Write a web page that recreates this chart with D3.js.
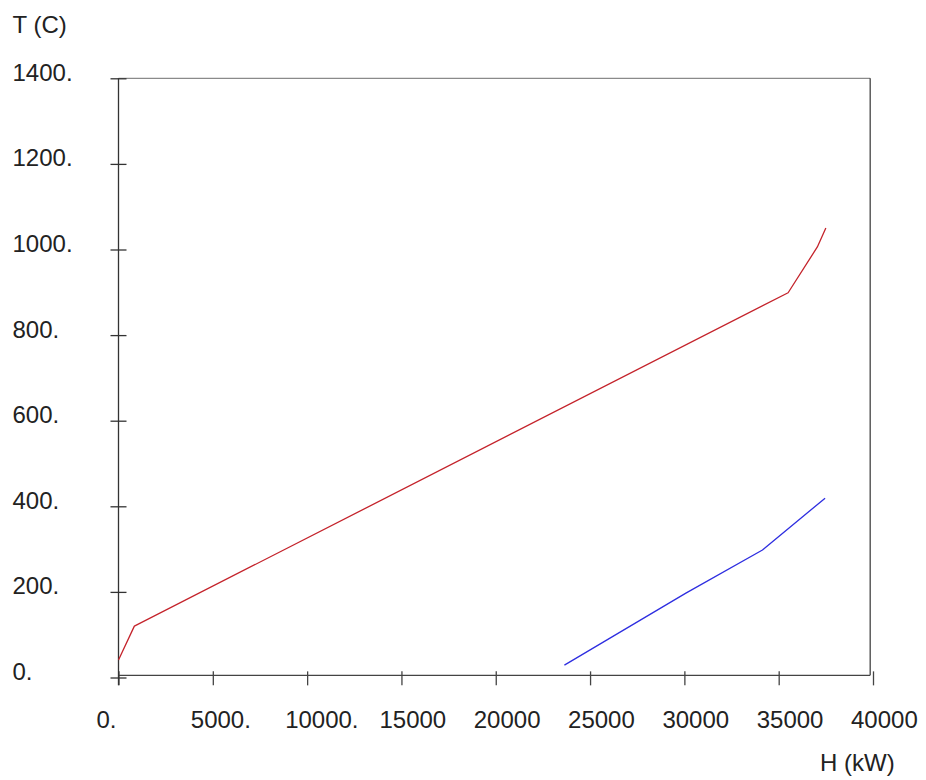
<!DOCTYPE html>
<html>
<head>
<meta charset="utf-8">
<script src="https://cdn.jsdelivr.net/npm/d3@7"></script>
<style>
  html, body { margin: 0; padding: 0; background: #ffffff; }
  svg text { font-family: "Liberation Sans", Arial, Helvetica, sans-serif; fill: #222; }
</style>
</head>
<body>
<svg id="chart" width="926" height="780"></svg>
<script>
// Hot stream (red) and cold stream (blue) composite curves: enthalpy H (kW) vs temperature T (C)
const hotH  = [0, 840, 35500, 37050, 37500];
const hotT  = [41, 120, 899, 1006, 1050];
const coldH = [23640, 30080, 34140, 37460];
const coldT = [29, 197, 298, 419];

const xTicks = [0, 5000, 10000, 15000, 20000, 25000, 30000, 35000, 40000];
const xTickLabels = ["0.", "5000.", "10000.", "15000", "20000", "25000", "30000", "35000", "40000"];
const yTicks = [0, 200, 400, 600, 800, 1000, 1200, 1400];
const yTickLabels = ["0.", "200.", "400.", "600.", "800.", "1000.", "1200.", "1400."];

// plotted region and where the horizontal axis crosses
const plotHMax = 39850;
const plotTMax = 1400;
const axisOriginT = 5;

const svg = d3.select("#chart");

const x = d3.scaleLinear().domain([0, 40000]).range([118.5, 873]);
const y = d3.scaleLinear().domain([0, 1400]).range([677.5, 78.3]);

const axisY = y(axisOriginT);

// frame: top and right edges
svg.append("line")
  .attr("x1", x(0)).attr("x2", x(plotHMax))
  .attr("y1", y(plotTMax)).attr("y2", y(plotTMax))
  .attr("stroke", "#8a8a8a").attr("stroke-width", 1.2);
svg.append("line")
  .attr("x1", x(plotHMax)).attr("x2", x(plotHMax))
  .attr("y1", y(plotTMax)).attr("y2", axisY)
  .attr("stroke", "#333").attr("stroke-width", 1.2);

// horizontal axis
const gx = svg.append("g")
  .attr("transform", `translate(0,${axisY})`)
  .call(d3.axisBottom(x).tickValues(xTicks)
    .tickFormat((d, i) => xTickLabels[i])
    .tickSizeOuter(0).tickSizeInner(10).tickPadding(0));
gx.select(".domain")
  .attr("d", `M${x(0)},0H${x(plotHMax)}`)
  .attr("stroke", "#444").attr("stroke-width", 1.3);
gx.selectAll(".tick line")
  .attr("y1", -4).attr("y2", 10)
  .attr("stroke", "#444").attr("stroke-width", 1.3);
gx.selectAll(".tick text")
  .attr("text-anchor", "start")
  .attr("x", -22.5).attr("y", 728 - axisY).attr("dy", 0)
  .style("font-size", "24px").attr("fill", "#222");

// vertical axis
const gy = svg.append("g")
  .attr("transform", `translate(${x(0)},0)`)
  .call(d3.axisLeft(y).tickValues(yTicks)
    .tickFormat((d, i) => yTickLabels[i])
    .tickSizeOuter(0).tickSizeInner(8).tickPadding(0));
gy.select(".domain")
  .attr("d", `M0,${y(plotTMax)}V${axisY + 10}`)
  .attr("stroke", "#333").attr("stroke-width", 1.3);
gy.selectAll(".tick line")
  .attr("x1", -8).attr("x2", 8)
  .attr("stroke", "#333").attr("stroke-width", 1.3);
gy.selectAll(".tick text")
  .attr("text-anchor", "start")
  .attr("x", 12.5 - x(0)).attr("y", 2).attr("dy", 0)
  .style("font-size", "24px").attr("fill", "#222");

// axis titles
svg.append("text").attr("x", 12.5).attr("y", 33)
  .style("font-size", "24px").text("T (C)");
svg.append("text").attr("x", 820).attr("y", 771)
  .style("font-size", "24px").text("H (kW)");

// curves
const line = d3.line().x(d => x(d[0])).y(d => y(d[1]));

svg.append("path")
  .datum(hotH.map((h, i) => [h, hotT[i]]))
  .attr("d", line)
  .attr("fill", "none").attr("stroke", "#c4232b").attr("stroke-width", 1.3)
  .attr("stroke-linejoin", "round");

svg.append("path")
  .datum(coldH.map((h, i) => [h, coldT[i]]))
  .attr("d", line)
  .attr("fill", "none").attr("stroke", "#2e2ee0").attr("stroke-width", 1.3)
  .attr("stroke-linejoin", "round");
</script>
</body>
</html>
